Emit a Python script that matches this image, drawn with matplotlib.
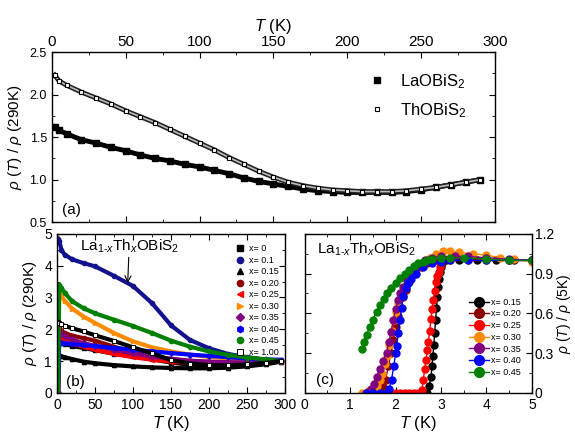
import numpy as np
import matplotlib.pyplot as plt
from matplotlib.ticker import MultipleLocator

plt.rcParams['font.family'] = ['Liberation Sans', 'DejaVu Sans']
plt.rcParams['mathtext.fontset'] = 'custom'
plt.rcParams['mathtext.rm'] = 'Liberation Sans'
plt.rcParams['mathtext.it'] = 'Liberation Sans:italic'
plt.rcParams['axes.linewidth'] = 1.0

# Panel (a): rho(T)/rho(290K) of parent compounds
T_a = [2, 5, 10, 20, 30, 40, 50, 60, 70, 80, 90, 100, 110, 120, 130, 140, 150,
       160, 170, 180, 190, 200, 210, 220, 230, 240, 250, 260, 270, 280, 290]
rho_La = [1.62, 1.58, 1.54, 1.47, 1.43, 1.38, 1.34, 1.29, 1.25, 1.22, 1.18, 1.15,
          1.11, 1.07, 1.02, 0.98, 0.95, 0.92, 0.89, 0.87, 0.86, 0.85, 0.85, 0.85,
          0.85, 0.86, 0.88, 0.91, 0.94, 0.97, 1.00]
rho_Th = [2.23, 2.16, 2.11, 2.03, 1.96, 1.89, 1.81, 1.74, 1.67, 1.59, 1.51, 1.43,
          1.35, 1.26, 1.18, 1.10, 1.03, 0.97, 0.93, 0.90, 0.88, 0.87, 0.86, 0.86,
          0.86, 0.87, 0.89, 0.91, 0.94, 0.97, 1.00]

# Panel (b): La1-xThxOBiS2, 0-300 K
T_b = [1.5, 3, 6, 10, 20, 35, 50, 75, 100, 125, 150, 175, 200, 225, 250, 275, 295]
b_labels = ['x= 0', 'x= 0.1', 'x= 0.15', 'x= 0.20', 'x= 0.25', 'x= 0.30',
            'x= 0.35', 'x= 0.40', 'x= 0.45', 'x= 1.00']
b_colors = ['black', '#12128f', 'black', '#8b0000', '#ff0000', '#ff8c00',
            '#800080', '#0000ff', '#008000', 'black']
b_markers = ['s', 'o', '^', 'o', '<', '>', 'D', 'h', 'o', 's']
b_values = [
    [1.63, 1.61, 1.57, 1.54, 1.47, 1.41, 1.34, 1.23, 1.15, 1.05, 0.95, 0.88, 0.85, 0.85, 0.88, 0.94, 1.00],
    [4.85, 4.78, 4.50, 4.35, 4.20, 4.08, 3.98, 3.68, 3.36, 2.82, 2.12, 1.66, 1.40, 1.22, 1.12, 1.04, 1.00],
    [0.00, 1.19, 1.15, 1.12, 1.06, 0.98, 0.93, 0.87, 0.83, 0.80, 0.78, 0.77, 0.77, 0.79, 0.83, 0.90, 0.98],
    [0.00, 2.03, 1.96, 1.88, 1.80, 1.72, 1.64, 1.45, 1.28, 1.15, 1.06, 1.00, 0.97, 0.95, 0.95, 0.97, 1.00],
    [0.00, 1.80, 1.72, 1.65, 1.55, 1.45, 1.36, 1.22, 1.12, 1.04, 0.98, 0.94, 0.92, 0.91, 0.92, 0.95, 1.00],
    [0.00, 3.25, 3.05, 2.90, 2.65, 2.40, 2.20, 1.88, 1.62, 1.43, 1.30, 1.20, 1.13, 1.08, 1.05, 1.02, 1.00],
    [0.00, 1.92, 1.85, 1.78, 1.68, 1.56, 1.48, 1.36, 1.24, 1.14, 1.07, 1.01, 0.98, 0.96, 0.96, 0.98, 1.00],
    [0.00, 1.61, 1.58, 1.56, 1.53, 1.50, 1.47, 1.41, 1.36, 1.30, 1.25, 1.20, 1.16, 1.12, 1.08, 1.05, 1.04],
    [0.00, 3.40, 3.30, 3.15, 2.88, 2.66, 2.50, 2.30, 2.10, 1.88, 1.64, 1.45, 1.30, 1.19, 1.11, 1.05, 1.00],
    [2.23, 2.20, 2.15, 2.11, 2.03, 1.93, 1.81, 1.63, 1.43, 1.24, 1.03, 0.92, 0.87, 0.86, 0.89, 0.94, 1.00],
]

# Panel (c): rho(T)/rho(5K), 1-5 K
c_labels = ['x= 0.15', 'x= 0.20', 'x= 0.25', 'x= 0.30', 'x= 0.35', 'x= 0.40', 'x= 0.45']
c_colors = ['black', '#8b0000', '#ff0000', '#ff8c00', '#800080', '#0000ff', '#008000']
c_T = [
    [2.62, 2.70, 2.74, 2.78, 2.80, 2.82, 2.84, 2.86, 2.88, 2.90, 2.92, 2.94, 2.96, 2.98, 3.00, 3.02, 3.10, 3.40, 3.80, 4.20, 4.60, 5.00],
    [1.65, 1.72, 1.78, 1.84, 1.90, 1.95, 2.00, 2.05, 2.10, 2.16, 2.22, 2.30, 2.40, 2.55, 2.70, 2.90, 3.20, 3.60, 4.00, 4.50, 5.00],
    [1.80, 1.90, 2.00, 2.10, 2.20, 2.30, 2.40, 2.50, 2.58, 2.61, 2.64, 2.67, 2.70, 2.72, 2.75, 2.78, 2.80, 2.83, 2.86, 2.89, 2.92, 2.95, 2.98, 3.00, 3.20, 3.60, 4.00, 4.50, 5.00],
    [1.25, 1.40, 1.50, 1.58, 1.65, 1.70, 1.76, 1.80, 1.85, 1.91, 1.96, 2.00, 2.06, 2.12, 2.18, 2.24, 2.30, 2.38, 2.46, 2.55, 2.65, 2.76, 2.90, 3.05, 3.20, 3.40, 3.70, 4.00, 4.30, 4.60, 5.00],
    [1.36, 1.45, 1.52, 1.58, 1.65, 1.72, 1.80, 1.85, 1.90, 1.95, 2.00, 2.05, 2.10, 2.17, 2.24, 2.32, 2.40, 2.46, 2.55, 2.65, 2.80, 3.00, 3.30, 3.60, 4.00, 4.50, 5.00],
    [1.35, 1.50, 1.65, 1.80, 1.86, 1.91, 1.96, 2.00, 2.02, 2.06, 2.10, 2.13, 2.17, 2.22, 2.28, 2.35, 2.45, 2.60, 2.80, 3.00, 3.20, 3.60, 4.00, 4.50, 5.00],
    [1.25, 1.30, 1.36, 1.43, 1.50, 1.58, 1.66, 1.74, 1.82, 1.90, 2.00, 2.10, 2.20, 2.30, 2.40, 2.50, 2.60, 2.70, 2.80, 3.00, 3.20, 3.50, 4.00, 4.50, 5.00],
]
c_values = [
    [0.00, 0.00, 0.05, 0.12, 0.20, 0.28, 0.36, 0.45, 0.55, 0.64, 0.72, 0.80, 0.86, 0.91, 0.95, 0.98, 1.00, 1.00, 1.00, 1.00, 1.00, 1.00],
    [0.00, 0.04, 0.10, 0.20, 0.30, 0.40, 0.50, 0.58, 0.65, 0.72, 0.78, 0.84, 0.90, 0.95, 0.98, 1.00, 1.01, 1.01, 1.01, 1.00, 1.00],
    [0.00, 0.00, 0.00, 0.00, 0.00, 0.00, 0.00, 0.00, 0.02, 0.10, 0.18, 0.25, 0.32, 0.38, 0.47, 0.56, 0.63, 0.70, 0.77, 0.84, 0.88, 0.91, 0.95, 0.98, 1.00, 1.00, 1.00, 1.00, 1.00],
    [0.00, 0.01, 0.02, 0.05, 0.10, 0.14, 0.22, 0.28, 0.36, 0.47, 0.55, 0.61, 0.68, 0.74, 0.79, 0.83, 0.87, 0.90, 0.93, 0.96, 0.99, 1.02, 1.05, 1.07, 1.07, 1.06, 1.05, 1.04, 1.02, 1.01, 0.99],
    [0.00, 0.03, 0.07, 0.12, 0.18, 0.24, 0.30, 0.38, 0.46, 0.55, 0.63, 0.70, 0.75, 0.80, 0.85, 0.89, 0.92, 0.94, 0.97, 1.00, 1.02, 1.03, 1.03, 1.03, 1.02, 1.01, 1.00],
    [0.00, 0.00, 0.00, 0.00, 0.03, 0.10, 0.20, 0.30, 0.35, 0.45, 0.55, 0.64, 0.73, 0.79, 0.83, 0.86, 0.90, 0.95, 0.98, 0.99, 1.00, 1.00, 1.00, 1.00, 1.00],
    [0.33, 0.38, 0.44, 0.50, 0.55, 0.61, 0.66, 0.71, 0.75, 0.79, 0.83, 0.87, 0.90, 0.93, 0.96, 0.98, 0.99, 1.00, 1.01, 1.02, 1.02, 1.02, 1.01, 1.00, 1.00],
]

ylab_290 = r'$\rho$ ($T$) / $\rho$ (290K)'

fig = plt.figure(figsize=(5.75, 4.34), dpi=100)
ax_a = fig.add_axes([0.090, 0.488, 0.771, 0.392])
ax_b = fig.add_axes([0.099, 0.095, 0.397, 0.366])
ax_c = fig.add_axes([0.530, 0.095, 0.395, 0.366])

# ---- (a)
ax_a.plot(T_a, rho_La, '-', color='black', lw=3.5)
ax_a.plot(T_a, rho_La, 's', color='black', ms=4, ls='none', label='LaOBiS$_2$')
ax_a.plot(T_a, rho_Th, '-', color='#222222', lw=3.5)
ax_a.plot(T_a, rho_Th, '-', color='#bbbbbb', lw=1.2)
ax_a.plot(T_a, rho_Th, 's', color='black', mfc='white', ms=3.5, mew=0.8, ls='none',
          label='ThOBiS$_2$')
ax_a.set_xlim(0, 300)
ax_a.set_ylim(0.5, 2.5)
ax_a.xaxis.set_major_locator(MultipleLocator(50))
ax_a.xaxis.set_minor_locator(MultipleLocator(25))
ax_a.yaxis.set_major_locator(MultipleLocator(0.5))
ax_a.yaxis.set_minor_locator(MultipleLocator(0.25))
ax_a.tick_params(which='both', direction='in', top=True, bottom=True, left=True, right=True,
                 labeltop=True, labelbottom=False)
ax_a.tick_params(axis='x', labelsize=11, pad=2)
ax_a.tick_params(axis='y', labelsize=9)
ax_a.tick_params(which='major', length=4)
ax_a.tick_params(which='minor', length=2)
ax_a.xaxis.set_label_position('top')
ax_a.set_xlabel('$T$ (K)', fontsize=12, labelpad=3)
ax_a.set_ylabel(ylab_290, fontsize=11, labelpad=4)
ax_a.text(7, 0.6, '(a)', fontsize=11)
ax_a.legend(loc='upper right', bbox_to_anchor=(0.97, 0.97), frameon=False, fontsize=12,
            handlelength=1.0, handletextpad=0.9, labelspacing=0.6, markerscale=1.0)

# ---- (b)
for vals, col, mk, lab in zip(b_values, b_colors, b_markers, b_labels):
    ax_b.plot(T_b, vals, '-', color=col, lw=3)
    if lab == 'x= 1.00':
        ax_b.plot(T_b, vals, mk, color=col, mfc='white', ms=3, mew=0.7, ls='none', label=lab)
    else:
        ax_b.plot(T_b, vals, mk, color=col, ms=3, ls='none', label=lab)
ax_b.set_xlim(0, 300)
ax_b.set_ylim(0, 5)
ax_b.xaxis.set_major_locator(MultipleLocator(50))
ax_b.xaxis.set_minor_locator(MultipleLocator(25))
ax_b.yaxis.set_major_locator(MultipleLocator(1))
ax_b.yaxis.set_minor_locator(MultipleLocator(0.5))
ax_b.tick_params(which='both', direction='in', top=True, right=True, labelsize=10)
ax_b.tick_params(which='major', length=4)
ax_b.tick_params(which='minor', length=2)
ax_b.set_xlabel('$T$ (K)', fontsize=12, labelpad=2)
ax_b.set_ylabel(ylab_290, fontsize=11, labelpad=4)
ax_b.text(12, 0.2, '(b)', fontsize=11)
ax_b.annotate('La$_{1\u2010x}$Th$_x$OBiS$_2$', xy=(93, 3.45), xytext=(95, 4.35),
              ha='center', va='bottom', fontsize=11,
              arrowprops=dict(arrowstyle='->', color='black', lw=0.8, shrinkA=0, shrinkB=0))
ax_b.legend(loc='upper right', bbox_to_anchor=(1.0, 0.975), frameon=False, fontsize=6.5,
            handlelength=0.8, handletextpad=0.6, labelspacing=0.28, markerscale=1.5,
            borderpad=0.2)

# ---- (c)
for tt, vals, col, lab in zip(c_T, c_values, c_colors, c_labels):
    ax_c.plot(tt, vals, '-o', color=col, lw=1.0, ms=5, label=lab)
ax_c.set_xlim(0, 5)
ax_c.set_ylim(0, 1.2)
ax_c.xaxis.set_major_locator(MultipleLocator(1))
ax_c.xaxis.set_minor_locator(MultipleLocator(0.5))
ax_c.yaxis.set_major_locator(MultipleLocator(0.3))
ax_c.yaxis.set_minor_locator(MultipleLocator(0.15))
ax_c.yaxis.set_major_formatter(plt.FuncFormatter(lambda v, p: '0' if abs(v) < 1e-9 else f'{v:.1f}'))
ax_c.tick_params(which='both', direction='in', top=True, right=True, left=True,
                 labelleft=False, labelright=True, labelsize=10)
ax_c.tick_params(axis='y', pad=2)
ax_c.tick_params(which='major', length=4)
ax_c.tick_params(which='minor', length=2)
ax_c.yaxis.set_label_position('right')
ax_c.set_xlabel('$T$ (K)', fontsize=12, labelpad=2)
ax_c.set_ylabel(r'$\rho$ ($T$) / $\rho$ (5K)', fontsize=10, labelpad=1)
ax_c.text(0.25, 0.07, '(c)', fontsize=11)
ax_c.text(0.28, 1.05, 'La$_{1\u2010x}$Th$_x$OBiS$_2$', fontsize=11)
ax_c.legend(loc='lower right', bbox_to_anchor=(0.98, 0.06), frameon=False, fontsize=6.5,
            handlelength=2.2, handletextpad=0.3, labelspacing=0.3, markerscale=1.4,
            borderpad=0.2)

fig.savefig('out.png', dpi=100)
